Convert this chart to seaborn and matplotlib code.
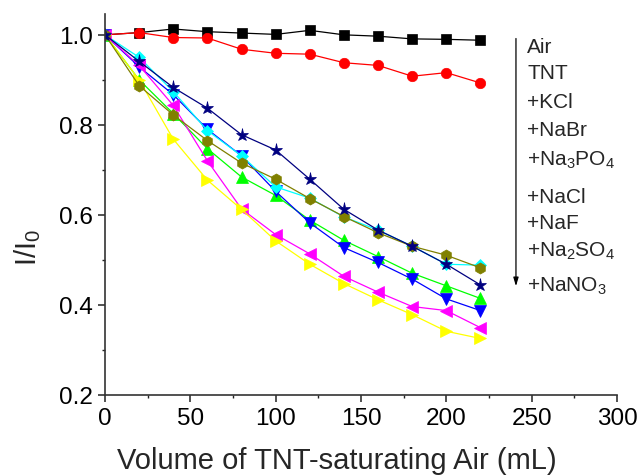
import matplotlib
matplotlib.use("Agg")
import matplotlib.pyplot as plt
import seaborn as sns
import pandas as pd
from matplotlib.ticker import MultipleLocator

# ---- data ----
volume = [0, 20, 40, 60, 80, 100, 120, 140, 160, 180, 200, 220]
air = [1.0, 1.005, 1.013, 1.007, 1.004, 1.001, 1.01, 1.0, 0.997, 0.991, 0.99, 0.988]
tnt = [1.0, 1.005, 0.994, 0.993, 0.968, 0.959, 0.957, 0.938, 0.932, 0.908, 0.916, 0.893]
kcl = [1.0, 0.900, 0.825, 0.747, 0.684, 0.643, 0.588, 0.543, 0.507, 0.470, 0.442, 0.414]
nabr = [1.0, 0.929, 0.867, 0.790, 0.731, 0.652, 0.582, 0.527, 0.494, 0.457, 0.413, 0.387]
na3po4 = [1.0, 0.950, 0.874, 0.787, 0.731, 0.662, 0.637, 0.595, 0.566, 0.530, 0.490, 0.488]
nacl = [1.0, 0.932, 0.843, 0.720, 0.613, 0.556, 0.513, 0.463, 0.428, 0.396, 0.387, 0.349]
naf = [1.0, 0.900, 0.768, 0.677, 0.612, 0.542, 0.490, 0.447, 0.411, 0.378, 0.341, 0.325]
na2so4 = [1.0, 0.887, 0.822, 0.765, 0.715, 0.679, 0.636, 0.596, 0.560, 0.530, 0.510, 0.482]
nano3 = [1.0, 0.941, 0.883, 0.837, 0.778, 0.744, 0.679, 0.612, 0.566, 0.530, 0.490, 0.444]

series_names = ["Air", "TNT", "+KCl", "+NaBr", "+Na3PO4", "+NaCl", "+NaF", "+Na2SO4", "+NaNO3"]
series_values = [air, tnt, kcl, nabr, na3po4, nacl, naf, na2so4, nano3]
legend_labels = ["Air", "TNT", "+KCl", "+NaBr",
                 "+Na$_\\mathregular{3}$PO$_\\mathregular{4}$", "+NaCl", "+NaF",
                 "+Na$_\\mathregular{2}$SO$_\\mathregular{4}$", "+NaNO$_\\mathregular{3}$"]

# ---- styles ----
colors = ["#000000", "#FF0000", "#00FF00", "#0000FF", "#00FFFF", "#FF00FF", "#FFFF00", "#808000", "#000080"]
markers = ["s", "o", "^", "v", "D", "<", ">", "h", "*"]
msizes = [6.5, 7.5, 8, 8, 6.5, 8, 8, 8, 9.5]

sns.set_style("ticks")
plt.rcParams["font.family"] = ["Liberation Sans", "DejaVu Sans"]
plt.rcParams["mathtext.fontset"] = "custom"
plt.rcParams["mathtext.rm"] = "Liberation Sans"

fig = plt.figure(figsize=(6.44, 4.77), dpi=100)
ax = fig.add_axes([105 / 644, 1 - 395.7 / 477, 512 / 644, (395.7 - 14.7) / 477])

df = pd.DataFrame({
    "volume": volume * len(series_names),
    "ratio": sum(series_values, []),
    "series": [n for n in series_names for _ in volume],
})

for name, c, m, ms in zip(series_names, colors, markers, msizes):
    sub = df[df["series"] == name]
    sns.lineplot(data=sub, x="volume", y="ratio", ax=ax, color=c, marker=m,
                 markersize=ms, markeredgecolor=c, markeredgewidth=0.5,
                 linewidth=0.9, legend=False)

ax.set_xlim(0, 300)
ax.set_ylim(0.2, 1.047)
ax.xaxis.set_major_locator(MultipleLocator(50))
ax.xaxis.set_minor_locator(MultipleLocator(25))
ax.yaxis.set_major_locator(MultipleLocator(0.2))
ax.yaxis.set_minor_locator(MultipleLocator(0.1))
ax.yaxis.set_major_formatter(matplotlib.ticker.FormatStrFormatter("%.1f"))
ax.tick_params(which="major", direction="out", length=5, width=1.1, labelsize=17.5, colors="#222222", labelcolor="black")
ax.tick_params(which="minor", direction="out", length=2.5, width=1.0, colors="#222222")
for s in ["top", "right"]:
    ax.spines[s].set_visible(False)
for s in ["left", "bottom"]:
    ax.spines[s].set_linewidth(1.2)
    ax.spines[s].set_color("#333333")

ax.set_xlabel("Volume of TNT-saturating Air (mL)", fontsize=21)
ax.set_ylabel("I/I$_\\mathregular{0}$", fontsize=21)
ax.xaxis.set_label_coords(0.453, -0.135)
ax.yaxis.set_label_coords(-0.122, 0.39)

# legend-like text list with arrow
text_y = [0.962, 0.903, 0.840, 0.777, 0.712, 0.628, 0.570, 0.510, 0.432]
for lab, ty in zip(legend_labels, text_y):
    ax.text(247.5, ty, lab, fontsize=15, va="baseline", ha="left")

ax.annotate("", xy=(240.8, 0.435), xytext=(240.8, 0.998),
            arrowprops=dict(arrowstyle="-|>,head_length=0.5,head_width=0.15",
                            color="black", lw=0.9))

fig.savefig("out.png", dpi=100)
